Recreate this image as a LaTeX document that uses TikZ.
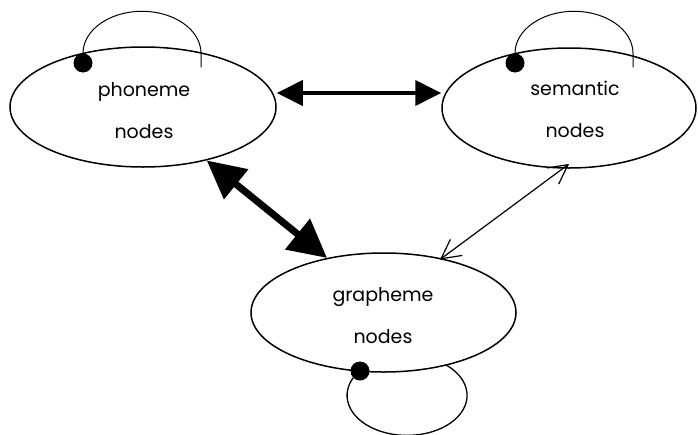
\documentclass[tikz,border=0pt]{standalone}
\usepackage{fontspec}
\setmainfont{Poppins}
\usetikzlibrary{shapes.geometric,arrows.meta}
\begin{document}
\begin{tikzpicture}[x=1pt,y=1pt,
  state/.style={draw,ellipse,line width=1.5pt,inner sep=0pt},
  lbl/.style={align=center,inner sep=0pt,font=\fontsize{19}{42}\selectfont},
  dotnode/.style={circle,fill,inner sep=0pt,minimum size=19pt},
  loopline/.style={line width=1pt},
  midarrow/.style={line width=4pt,{Triangle[length=26pt,width=25pt]}-{Triangle[length=26pt,width=25pt]}},
  bigarrow/.style={line width=7pt,{Triangle[length=38pt,width=37pt]}-{Triangle[length=38pt,width=38pt]}},
  thinarrow/.style={line width=1.2pt,{Straight Barb[length=19pt,width=20pt]}-{Straight Barb[length=19pt,width=20pt]}}]
\fill[white] (0,0) rectangle (698,-434);
\useasboundingbox (0,0) rectangle (698,-434);

\node[state,minimum width=266pt,minimum height=120pt] (phon) at (143,-107) {};
\node[state,minimum width=254pt,minimum height=120pt] (sem) at (569,-108) {};
\node[state,minimum width=265pt,minimum height=119pt] (graph) at (383.5,-312.5) {};
\node[lbl] (phontxt) at (144,-111) {phoneme\\nodes};
\node[lbl] (semtxt) at (575,-109) {semantic\\nodes};
\node[lbl] (graphtxt) at (383,-316) {grapheme\\nodes};

% connectors
\draw[midarrow] ([yshift=14pt]phon.east) -- ([yshift=15pt]sem.west);
\draw[bigarrow] (phon.-40.5) -- (graph.136.9);
\draw[thinarrow,shorten <=-2pt,shorten >=-8pt] (graph.43.5) -- (sem.-96.7);

% self loops
\node[dotnode] (pdot) at (83,-63) {};
\node[dotnode] (sdot) at (515,-63) {};
\node[dotnode] (gdot) at (360,-371) {};
\draw[loopline] (pdot.north) arc[start angle=180,end angle=0,x radius=59,y radius=42] -- ++(0,-14);
\draw[loopline] (sdot.north) arc[start angle=180,end angle=0,x radius=59,y radius=42] -- ++(0,-14);
\draw[loopline,line width=1.3pt] (gdot.225) arc[start angle=154,end angle=410,x radius=60,y radius=40];
\end{tikzpicture}
\end{document}
